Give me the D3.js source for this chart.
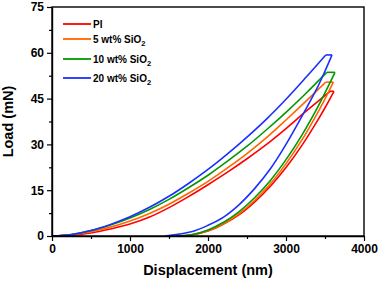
<!DOCTYPE html>
<html>
<head>
<meta charset="utf-8">
<script src="https://cdn.jsdelivr.net/npm/d3@7"></script>
<style>
  body { margin: 0; background: #fff; }
  text { font-family: "Liberation Sans", Arial, sans-serif; font-weight: bold; }
</style>
</head>
<body>
<script>
// data (nm, mN)
var names = ["PI", "5 wt% SiO", "10 wt% SiO", "20 wt% SiO"],
    subs = ["", "2", "2", "2"],
    colors = ["#ff0000", "#ff6600", "#009a00", "#1a30ff"];

var loadDepth = [0, 250, 500, 750, 1000, 1250, 1500, 1750, 2000, 2250, 2500, 2750, 3000, 3250];
var loadPI   = [0, 0.3, 1.0, 2.3, 3.9, 6.2, 9.3, 12.9, 16.8, 20.9, 25.3, 30.0, 35.2, 40.7],
    load5    = [0, 0.4, 1.4, 2.9, 4.9, 7.4, 10.4, 14.0, 17.9, 22.3, 27.0, 32.2, 38.0, 44.0],
    load10   = [0, 0.5, 1.8, 3.6, 5.9, 8.7, 12.0, 15.8, 19.9, 24.5, 29.4, 34.8, 40.5, 46.6],
    load20   = [0, 0.5, 1.8, 3.8, 6.3, 9.4, 13.0, 17.2, 21.8, 26.9, 32.4, 38.3, 44.8, 51.8];

// peak (start of hold), end of hold, residual depth
var peakDepth = [3564, 3509, 3522, 3510],
    peakLoad = [47.4, 50.4, 53.6, 59.3],
    holdDepth = [3615, 3607, 3628, 3590],
    residualDepth = [1620, 1600, 1580, 1450];

var unloadDepth = [3500, 3400, 3200, 3000, 2800, 2600, 2400, 2200, 2000, 1800];
var unloadPI   = [42.0, 37.6, 29.5, 22.4, 16.3, 11.2, 7.0, 3.9, 1.6, 0.4],
    unload5    = [44.9, 40.1, 31.3, 23.7, 17.1, 11.7, 7.3, 4.0, 1.7, 0.4],
    unload10   = [46.9, 41.9, 32.9, 25.0, 18.2, 12.6, 8.0, 4.5, 2.0, 0.5],
    unload20   = [54.0, 48.5, 39.0, 30.0, 22.0, 15.6, 10.3, 6.2, 3.5, 1.5];

var xTicks = [0, 1000, 2000, 3000, 4000],
    xMinor = [500, 1500, 2500, 3500],
    yTicks = [0, 15, 30, 45, 60, 75],
    yMinor = [7.5, 22.5, 37.5, 52.5, 67.5];

var loadings = [loadPI, load5, load10, load20],
    unloadings = [unloadPI, unload5, unload10, unload20];

//positioning/sizing
var margin = {top: 7, right: 16, bottom: 47, left: 52},
    svg_dx = 380,
    svg_dy = 283;

var x = d3.scaleLinear().domain([0, 4000]).range([margin.left, svg_dx - margin.right]),
    y = d3.scaleLinear().domain([0, 75]).range([svg_dy - margin.bottom, margin.top]);

var svg = d3.select("body").append("svg")
    .attr("width", svg_dx)
    .attr("height", svg_dy);

var line = d3.line()
    .x(d => x(d[0]))
    .y(d => y(d[1]))
    .curve(d3.curveCatmullRom);

var straight = d3.line()
    .x(d => x(d[0]))
    .y(d => y(d[1]));

// curves, blue on top
names.forEach(function(n, i) {
    var up = loadDepth.map((h, j) => [h, loadings[i][j]]);
    up.push([peakDepth[i], peakLoad[i]]);

    var down = [[holdDepth[i], peakLoad[i]]]
        .concat(unloadDepth.map((h, j) => [h, unloadings[i][j]]));
    down.push([residualDepth[i], 0]);

    var g = svg.append("g")
        .attr("fill", "none")
        .attr("stroke", colors[i])
        .attr("stroke-width", 1.6)
        .attr("stroke-linejoin", "round");

    g.append("path").attr("d", line(up));
    g.append("path").attr("d", straight([up[up.length - 1], down[0]]));
    g.append("path").attr("d", line(down));
});

// frame
svg.append("rect")
    .attr("x", x(0))
    .attr("y", y(75))
    .attr("width", x(4000) - x(0))
    .attr("height", y(0) - y(75))
    .attr("fill", "none")
    .attr("stroke", "#000")
    .attr("stroke-width", 1.4);

// axes
var axis_x = d3.axisBottom(x).tickValues(xTicks).tickFormat(d3.format("d"))
        .tickSize(5).tickSizeOuter(0).tickPadding(3),
    axis_y = d3.axisLeft(y).tickValues(yTicks).tickFormat(d3.format("d"))
        .tickSize(5).tickSizeOuter(0).tickPadding(3);

var gx = svg.append("g")
    .attr("transform", "translate(0," + y(0) + ")")
    .call(axis_x);

var gy = svg.append("g")
    .attr("transform", "translate(" + x(0) + ",0)")
    .call(axis_y);

[gx, gy].forEach(function(g) {
    g.select(".domain").attr("stroke-width", 1.4);
    g.selectAll(".tick line").attr("stroke-width", 1.2);
    g.selectAll(".tick text").attr("font-size", 12).attr("fill", "#000")
        .style("font-family", "'Liberation Sans', Arial, sans-serif");
});

svg.append("g")
    .attr("transform", "translate(0," + y(0) + ")")
    .call(d3.axisBottom(x).tickValues(xMinor).tickSize(3).tickSizeOuter(0).tickFormat(""))
    .call(g => g.select(".domain").remove())
    .selectAll("line").attr("stroke-width", 1.2);

svg.append("g")
    .attr("transform", "translate(" + x(0) + ",0)")
    .call(d3.axisLeft(y).tickValues(yMinor).tickSize(3).tickSizeOuter(0).tickFormat(""))
    .call(g => g.select(".domain").remove())
    .selectAll("line").attr("stroke-width", 1.2);

// axis titles
svg.append("text")
    .attr("x", (x(0) + x(4000)) / 2)
    .attr("y", 275)
    .attr("text-anchor", "middle")
    .attr("font-size", 14.5)
    .text("Displacement (nm)");

svg.append("text")
    .attr("transform", "translate(12.5," + (y(0) + y(75)) / 2 + ") rotate(-90)")
    .attr("text-anchor", "middle")
    .attr("font-size", 14.5)
    .text("Load (mN)");

// legend
var legendY = [24, 39, 59, 78];
var legend = svg.append("g");

names.forEach(function(n, i) {
    legend.append("line")
        .attr("x1", 63).attr("x2", 91)
        .attr("y1", legendY[i]).attr("y2", legendY[i])
        .attr("stroke", colors[i])
        .attr("stroke-width", 1.8);

    var t = legend.append("text")
        .attr("x", 93)
        .attr("y", legendY[i] + 3.6)
        .attr("font-size", 10);
    t.append("tspan").text(n);
    if (subs[i]) {
        t.append("tspan").attr("dy", 3.5).attr("font-size", 7.5).text(subs[i]);
    }
});
</script>
</body>
</html>
